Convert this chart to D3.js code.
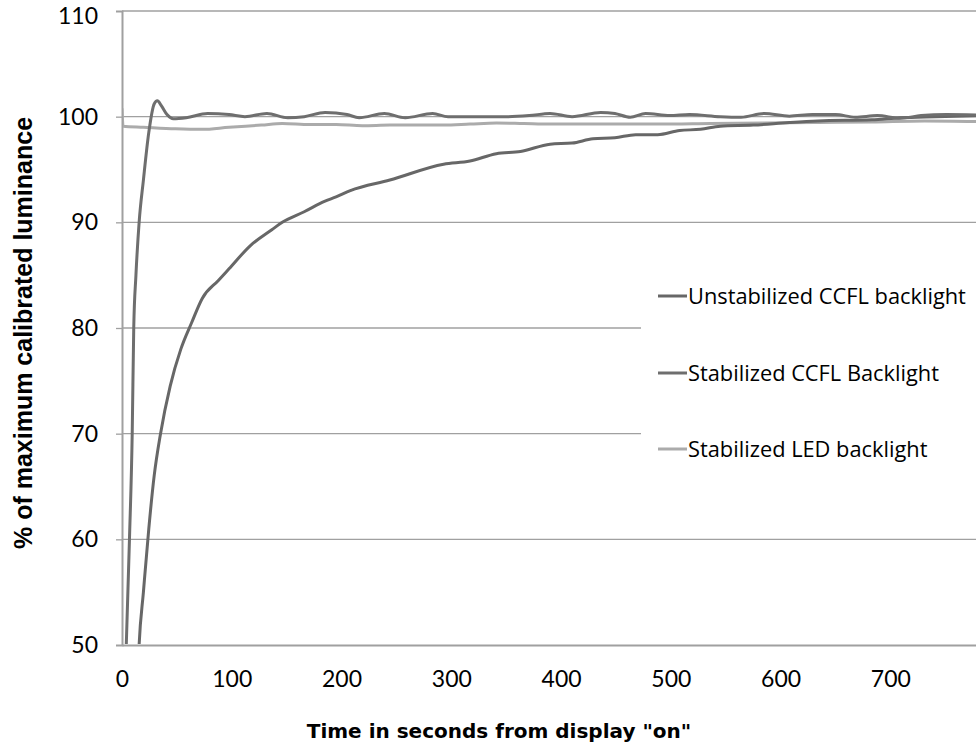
<!DOCTYPE html>
<html>
<head>
<meta charset="utf-8">
<script src="https://cdn.jsdelivr.net/npm/d3@7"></script>
<style>
  body { margin: 0; background: #fff; }
  text { fill: #000; }
</style>
</head>
<body>
<script>
// series values: [seconds, % luminance]
const unstabilized = [
  [13.7, 45], [15.6, 50], [19.5, 55], [24.4, 61], [29.3, 66], [35.1, 70], [43.9, 74.5],
  [53.6, 78], [63.4, 80.5], [73.1, 82.8], [87.8, 84.5], [97.5, 85.6], [117, 87.8],
  [136.5, 89.3], [146, 90], [166, 91], [185, 92], [195, 92.4], [208, 93], [244, 94],
  [293, 95.5], [317, 95.8], [341, 96.5], [363, 96.7], [390, 97.4], [410, 97.5],
  [429, 97.9], [449, 98], [468, 98.3], [488, 98.3], [508, 98.7], [527, 98.8],
  [545, 99.1], [575, 99.2], [608, 99.45], [634, 99.6], [683, 99.7], [709, 99.9],
  [741, 100], [780, 100.1]
];
const stabilizedCCFL = [
  [2, 45], [3.9, 50], [6.8, 60], [9.3, 70], [10.7, 80], [12.7, 85], [15.6, 90],
  [19.5, 94], [24.4, 98.5], [29.3, 101.2], [32.2, 101.5], [36.1, 101], [41, 100.2],
  [46.8, 99.8], [58.5, 99.9], [78, 100.3], [97.5, 100.2], [112, 100.0], [132, 100.3],
  [151, 99.9], [166, 100.0], [185, 100.4], [205, 100.2], [216, 99.9], [239, 100.3],
  [258, 99.9], [283, 100.3], [297, 100.0], [322, 100.0], [351, 100.0], [371, 100.1],
  [390, 100.3], [410, 100.0], [436, 100.4], [449, 100.3], [463, 99.95], [477, 100.3],
  [499, 100.1], [517, 100.2], [545, 100.0], [564, 99.95], [585, 100.3], [608, 100.05],
  [629, 100.2], [650, 100.2], [668, 99.95], [688, 100.1], [709, 99.85], [728, 100.1],
  [751, 100.2], [780, 100.15]
];
const stabilizedLED = [
  [0, 100.8], [1, 99.1], [19.5, 99.0], [48.8, 98.85], [73, 98.8], [97.5, 99.0],
  [127, 99.2], [146, 99.35], [171, 99.25], [195, 99.25], [219, 99.15], [244, 99.2],
  [268, 99.2], [293, 99.2], [317, 99.3], [341, 99.4], [366, 99.35], [390, 99.3],
  [439, 99.3], [488, 99.3], [536, 99.35], [585, 99.4], [634, 99.45], [683, 99.5],
  [731, 99.6], [780, 99.55]
];
const seriesNames = ["Unstabilized CCFL backlight", "Stabilized CCFL Backlight", "Stabilized LED backlight"];
const seriesColors = ["#676767", "#6e6e6e", "#ababab"];
const xTicks = [0, 100, 200, 300, 400, 500, 600, 700];
const yTicks = [50, 60, 70, 80, 90, 100, 110];

const width = 976, height = 749;
const margin = { left: 122, top: 11, right: 0, bottom: 104 };

const svg = d3.select('body').append('svg')
    .attr('width', width)
    .attr('height', height);

// the picture is cut at about 778 s on the right
const x = d3.scaleLinear()
    .domain([0, 778])
    .range([margin.left, width - margin.right]);

const y = d3.scaleLinear()
    .domain([50, 110])
    .range([height - margin.bottom, margin.top]);

// legend box hides part of grid
const legendX = 641;

//gridlines
svg.append('g')
    .selectAll('line')
    .data(yTicks.slice(1))
    .enter()
    .append('line')
    .attr('x1', x(0))
    .attr('x2', d => (d === 80 || d === 70) ? legendX : width)
    .attr('y1', d => y(d))
    .attr('y2', d => y(d))
    .attr('stroke', '#a0a0a0')
    .attr('stroke-width', 1.3);

//axes
const yAxis = svg.append('g')
    .attr('transform', `translate(${x(0)},0)`)
    .call(d3.axisLeft(y).tickValues(yTicks).tickSize(6).tickPadding(18));

const xAxis = svg.append('g')
    .attr('transform', `translate(0,${y(50)})`)
    .call(d3.axisBottom(x).tickValues(xTicks).tickSize(0).tickPadding(26));

[yAxis, xAxis].forEach(a => {
    a.select('.domain').attr('stroke', '#a0a0a0').attr('stroke-width', 2);
    a.selectAll('.tick line').attr('stroke', '#a0a0a0').attr('stroke-width', 1.3);
    a.selectAll('.tick text')
        .style('font-family', 'Lato, "Open Sans", sans-serif')
        .style('font-size', '23px')
        .attr('fill', '#000');
});
yAxis.selectAll('.tick').filter(d => d === 50 || d === 110).select('line').remove();
// keep the top label inside the page
yAxis.selectAll('.tick').filter(d => d === 110).select('text').attr('dy', '0.53em');

//lines
svg.append('clipPath').attr('id', 'plot')
    .append('rect')
    .attr('x', x(0) + 1)
    .attr('y', 0)
    .attr('width', width)
    .attr('height', y(50) - 1);

const line = d3.line()
    .x(d => x(d[0]))
    .y(d => y(d[1]))
    .curve(d3.curveMonotoneX);

const allSeries = [stabilizedLED, unstabilized, stabilizedCCFL];
const colorOf = [seriesColors[2], seriesColors[0], seriesColors[1]];

svg.append('g')
    .attr('clip-path', 'url(#plot)')
    .selectAll('path')
    .data(allSeries)
    .enter()
    .append('path')
    .attr('d', line)
    .attr('fill', 'none')
    .attr('stroke', (d, i) => colorOf[i])
    .attr('stroke-width', 3);

//legend
const legendY = [296, 373, 449];
const legend = svg.append('g')
    .selectAll('g')
    .data(seriesNames)
    .enter()
    .append('g')
    .attr('transform', (d, i) => `translate(658,${legendY[i]})`);

legend.append('line')
    .attr('x1', 0).attr('x2', 29)
    .attr('stroke', (d, i) => seriesColors[i])
    .attr('stroke-width', 3);

legend.append('text')
    .attr('x', 30)
    .attr('dy', '0.35em')
    .style('font-family', '"Open Sans", sans-serif')
    .style('font-size', '21.8px')
    .text(d => d);

//axis titles
svg.append('text')
    .attr('transform', `translate(32,${(y(50) + y(110)) / 2 + 5}) rotate(-90)`)
    .attr('text-anchor', 'middle')
    .style('font-family', '"Liberation Sans", Arial, sans-serif')
    .style('font-weight', 'bold')
    .style('font-size', '25px')
    .text('% of maximum calibrated luminance');

svg.append('text')
    .attr('x', 499)
    .attr('y', 738)
    .attr('text-anchor', 'middle')
    .style('font-family', '"DejaVu Sans", Verdana, sans-serif')
    .style('font-weight', 'bold')
    .style('font-size', '20px')
    .text('Time in seconds from display "on"');
</script>
</body>
</html>
